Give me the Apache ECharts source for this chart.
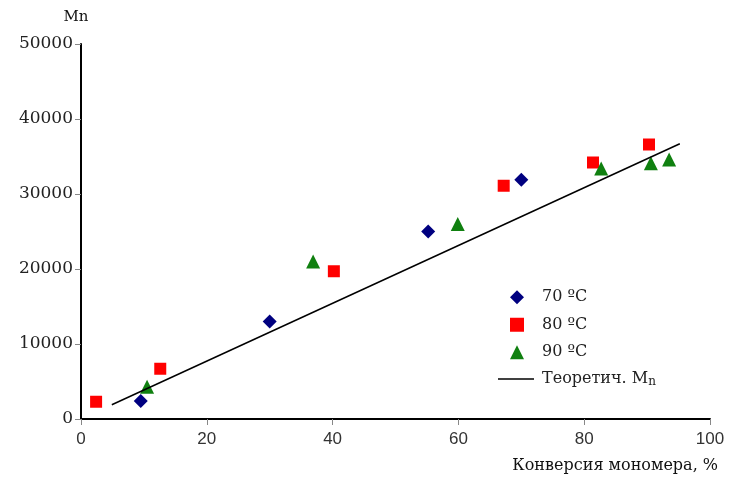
<!DOCTYPE html>
<html><head><meta charset="utf-8">
<script src="https://cdn.jsdelivr.net/npm/echarts@6/dist/echarts.min.js"></script>
<style>html,body{margin:0;padding:0;background:#fff}#c{width:729px;height:477px}</style>
</head><body><div id="c"></div>
<script>
const xTicks = [0, 20, 40, 60, 80, 100];
const yTicks = [0, 10000, 20000, 30000, 40000, 50000];
const s70 = [[9.5, 2400], [30, 13000], [55.2, 25000], [70, 31900]];
const s80 = [[2.4, 2300], [12.6, 6700], [40.2, 19700], [67.2, 31100], [81.4, 34200], [90.3, 36600]];
const s90 = [[10.5, 4300], [36.9, 21000], [59.9, 26000], [82.7, 33400], [90.6, 34100], [93.5, 34600]];
const theory = [[4.9, 1900], [95.2, 36700]];
const names = ['70 ºC', '80 ºC', '90 ºC', 'Теоретич. Mn'];

const chart = echarts.init(document.getElementById('c'), null, {renderer: 'canvas'});
const serif = '"DejaVu Serif", "Liberation Serif", serif';
const sans = '"Liberation Sans", Arial, sans-serif';
chart.setOption({
  animation: false,
  backgroundColor: '#fff',
  grid: {left: 81, right: 19, top: 44, bottom: 58, containLabel: false},
  xAxis: {
    type: 'value', min: xTicks[0], max: xTicks[xTicks.length - 1], interval: 20,
    axisLine: {lineStyle: {color: '#000', width: 2}},
    axisTick: {show: true, length: 6, lineStyle: {color: '#888', width: 1}},
    splitLine: {show: false},
    axisLabel: {color: '#333', fontFamily: sans, fontSize: 17, margin: 12},
    name: 'Конверсия мономера, %', nameLocation: 'end',
    nameTextStyle: {fontFamily: serif, fontSize: 16, color: '#111', align: 'right', verticalAlign: 'top', padding: [39, 0, 0, 0]},
    nameGap: 8
  },
  yAxis: {
    type: 'value', min: yTicks[0], max: yTicks[yTicks.length - 1], interval: 10000,
    axisLine: {show: true, lineStyle: {color: '#000', width: 2}},
    axisTick: {show: true, length: 6, lineStyle: {color: '#888', width: 1}},
    splitLine: {show: false},
    axisLabel: {color: '#222', fontFamily: serif, fontSize: 17, margin: 8, formatter: function (v) { return String(v); }},
    name: 'Mn', nameLocation: 'end', nameGap: 19,
    nameTextStyle: {fontFamily: serif, fontSize: 15, color: '#111', align: 'center', padding: [0, 10, 0, 0]}
  },
  legend: [
    {
      data: names.slice(0, 3), orient: 'vertical', left: 510, top: 289, padding: 0,
      itemWidth: 14, itemHeight: 14, itemGap: 11,
      textStyle: {fontFamily: serif, fontSize: 16, color: '#222', lineHeight: 16.5, padding: [0, 0, 0, 13]}
    },
    {
      data: [{name: names[3], icon: 'rect'}], orient: 'vertical', left: 498, top: 371, padding: 0,
      itemWidth: 36, itemHeight: 1.5,
      itemStyle: {color: '#000'},
      formatter: function () { return 'Теоретич. M{s|n}'; },
      textStyle: {fontFamily: serif, fontSize: 16, color: '#222', padding: [0, 0, 0, 3],
        rich: {s: {fontFamily: serif, fontSize: 12, color: '#222', verticalAlign: 'bottom', padding: [5, 0, 0, 0]}}}
    }
  ],
  series: [
    {name: names[0], type: 'scatter', data: s70, symbol: 'diamond', symbolSize: 14, itemStyle: {color: '#000080', opacity: 1}},
    {name: names[1], type: 'scatter', data: s80, symbol: 'rect', symbolSize: 12, itemStyle: {color: '#ff0000', opacity: 1}},
    {name: names[2], type: 'scatter', data: s90, symbol: 'triangle', symbolSize: 14, itemStyle: {color: '#108010', opacity: 1}},
    {name: names[3], type: 'line', data: theory, symbol: 'none', lineStyle: {color: '#000', width: 1.5}, itemStyle: {color: '#000'}}
  ]
});
</script></body></html>
